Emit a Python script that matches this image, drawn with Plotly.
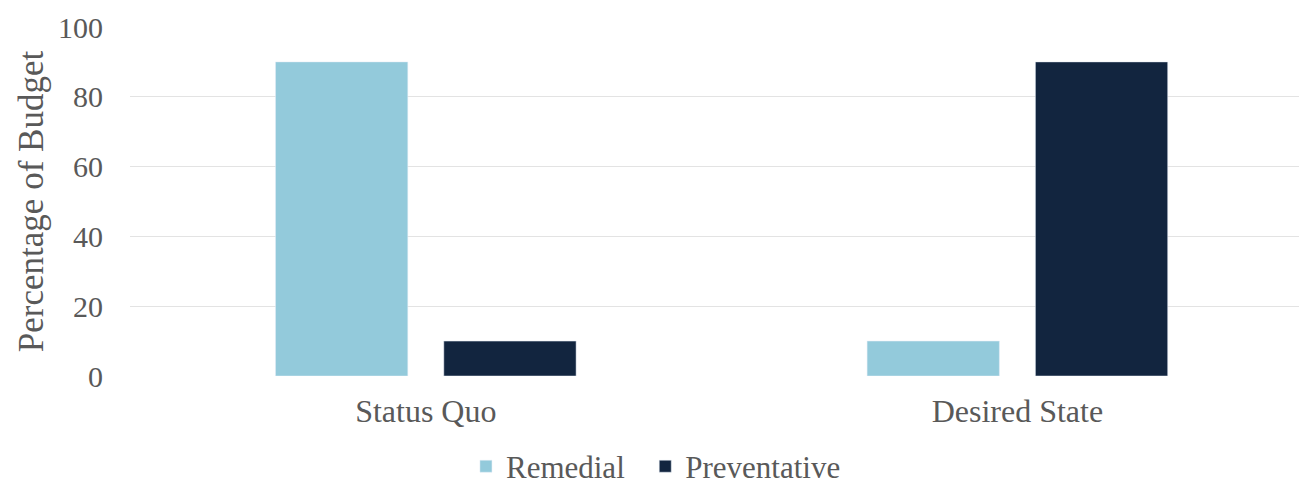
import plotly.graph_objects as go

categories = ["Status Quo", "Desired State"]
remedial = [90, 10]
preventative = [10, 90]
y_ticks = [0, 20, 40, 60, 80, 100]
series_names = ["Remedial", "Preventative"]

FONT = "Liberation Serif, Times New Roman, serif"
TXT = "#595959"

fig = go.Figure()
fig.add_trace(go.Bar(name=series_names[0] + "\u00a0\u00a0", x=categories, y=remedial,
                     marker_color="#93CADB"))
fig.add_trace(go.Bar(name=series_names[1], x=categories, y=preventative,
                     marker_color="#12253F"))

fig.update_layout(
    width=1299, height=485,
    margin=dict(l=130, r=0, t=27, b=109),
    paper_bgcolor="white", plot_bgcolor="white",
    barmode="group", bargap=0.431, bargroupgap=0.214,
    font=dict(family=FONT, color=TXT, size=30),
    showlegend=True,
    legend=dict(orientation="h", xref="container", yref="container",
                xanchor="left", yanchor="middle",
                x=0.3587, y=0.038, font=dict(size=31, color=TXT),
                traceorder="normal"),
)
fig.update_xaxes(range=[-0.5, 1.476], showgrid=False, showline=False,
                 zeroline=False, ticks="", ticklabelstandoff=13, automargin=False,
                 tickfont=dict(size=32, color=TXT, family=FONT))
fig.update_yaxes(range=[0, 100], tickvals=y_ticks, showgrid=True,
                 gridcolor="#E3E3E3", gridwidth=1, zeroline=False, automargin=False,
                 showline=False, ticks="", ticklabelstandoff=26,
                 tickfont=dict(size=30, color=TXT, family=FONT),
                 title=dict(text="Percentage of Budget", standoff=3,
                            font=dict(size=35, color=TXT, family=FONT)))

fig.write_html("out.html", config={"displayModeBar": False},
               post_script="document.body.style.margin='0';document.body.style.overflow='hidden';")
